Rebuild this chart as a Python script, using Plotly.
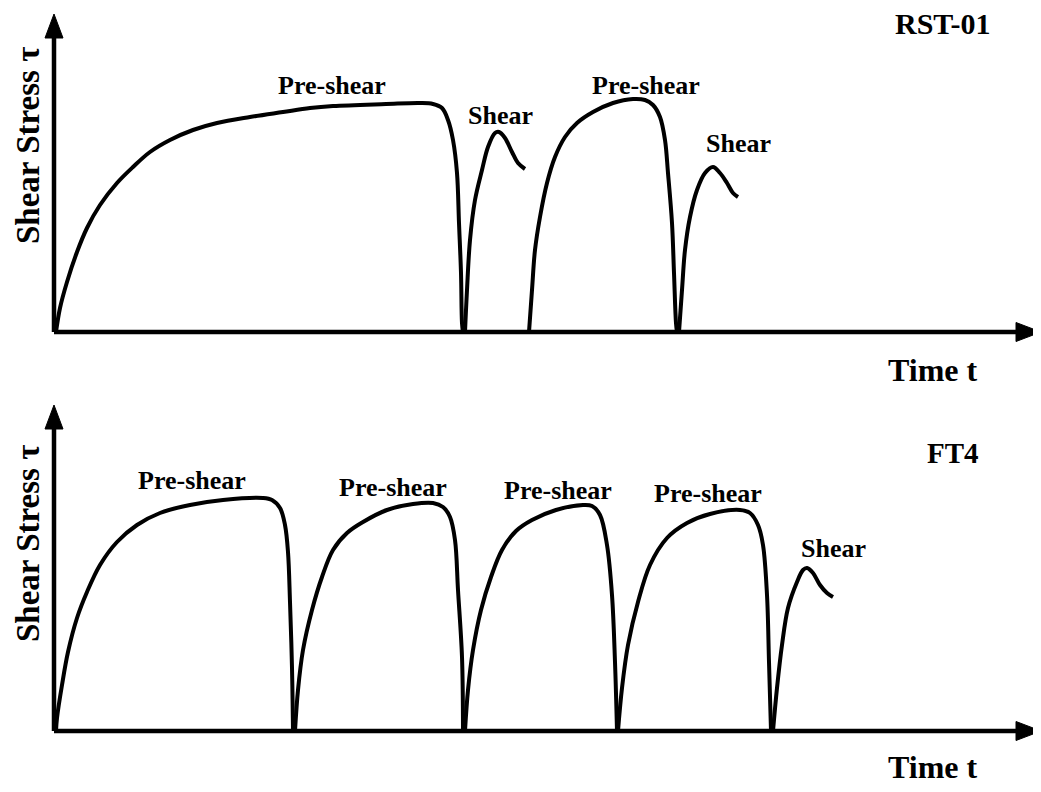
import plotly.graph_objects as go

# Schematic values (arbitrary units: time t, stress tau)
# --- RST-01 (top panel) ---
rst_pre1_t = [0, 4, 11, 21, 31, 44, 61, 77, 94, 114, 137, 161, 194, 227, 254, 277, 330, 364,
              377, 386, 392, 397, 401, 403, 405, 406, 407]
rst_pre1_tau = [0, 24, 50, 80, 104, 127, 149, 165, 180, 192, 202, 209, 215, 220, 224, 226, 228, 229,
                228, 224, 212, 192, 159, 109, 59, 9, 0]

rst_shear1_t = [409, 411, 414, 419, 426, 432, 439, 443, 449, 456, 462, 469]
rst_shear1_tau = [0, 42, 92, 132, 162, 185, 199, 200, 194, 180, 169, 163]

rst_pre2_t = [473, 476, 479, 484, 491, 499, 509, 521, 537, 557, 577, 589, 597, 604, 609, 612, 616,
              618, 620, 621]
rst_pre2_tau = [0, 42, 82, 115, 149, 175, 195, 209, 220, 229, 233, 232, 227, 215, 192, 159, 109,
                59, 9, 0]

rst_shear2_t = [623, 626, 629, 634, 641, 649, 657, 664, 671, 677, 682]
rst_shear2_tau = [0, 42, 82, 115, 142, 159, 165, 159, 149, 139, 135]

# --- FT4 (bottom panel) ---
ft4_pre1_t = [0, 1, 6, 12, 21, 31, 44, 61, 81, 104, 134, 167, 207, 216, 224, 229, 232, 234, 236, 237]
ft4_pre1_tau = [0, 13, 46, 79, 113, 139, 166, 189, 206, 218, 226, 231, 233, 231, 223, 206, 179, 129,
                63, 0]

ft4_pre2_t = [239, 242, 247, 256, 266, 277, 291, 307, 331, 357, 377, 387, 394, 399, 402, 406, 407]
ft4_pre2_tau = [0, 41, 81, 121, 154, 181, 198, 209, 221, 227, 228, 224, 214, 191, 141, 74, 0]

ft4_pre3_t = [409, 412, 417, 425, 435, 446, 460, 476, 500, 527, 536, 544, 551, 556, 559, 561]
ft4_pre3_tau = [0, 41, 81, 121, 154, 181, 200, 211, 221, 226, 225, 216, 186, 136, 69, 0]

ft4_pre4_t = [562, 566, 572, 582, 594, 611, 631, 654, 684, 694, 702, 707, 711, 713, 715]
ft4_pre4_tau = [0, 43, 86, 129, 166, 193, 208, 217, 221, 218, 206, 186, 136, 69, 0]

ft4_shear_t = [717, 721, 726, 732, 741, 747, 751, 757, 764, 771, 777]
ft4_shear_tau = [0, 43, 86, 123, 149, 161, 163, 158, 146, 138, 134]

# labels: (text, t, tau)
rst_labels = [("Pre-shear", 276, 247), ("Shear", 444, 217), ("Pre-shear", 590, 247), ("Shear", 682, 189)]
ft4_labels = [("Pre-shear", 136, 251), ("Pre-shear", 337, 244), ("Pre-shear", 502, 241),
              ("Pre-shear", 652, 238), ("Shear", 777, 183)]

FONT = "Liberation Serif"
BLACK = "#000000"
W, H = 1033, 784  # page body keeps an 8px margin


def px_x(px):
    return (px - 8) / W


def px_y(py):
    return 1 - (py - 8) / H


fig = go.Figure()

top_curves = [(rst_pre1_t, rst_pre1_tau), (rst_shear1_t, rst_shear1_tau),
              (rst_pre2_t, rst_pre2_tau), (rst_shear2_t, rst_shear2_tau)]
bottom_curves = [(ft4_pre1_t, ft4_pre1_tau), (ft4_pre2_t, ft4_pre2_tau), (ft4_pre3_t, ft4_pre3_tau),
                 (ft4_pre4_t, ft4_pre4_tau), (ft4_shear_t, ft4_shear_tau)]

for t, tau in top_curves:
    fig.add_trace(go.Scatter(x=t, y=tau, mode="lines", xaxis="x", yaxis="y",
                             line=dict(color=BLACK, width=4, shape="spline", smoothing=1.0),
                             showlegend=False, hoverinfo="skip"))
for t, tau in bottom_curves:
    fig.add_trace(go.Scatter(x=t, y=tau, mode="lines", xaxis="x2", yaxis="y2",
                             line=dict(color=BLACK, width=4, shape="spline", smoothing=1.0),
                             showlegend=False, hoverinfo="skip"))

# axes drawn as arrows
shapes = []
for xr, yr, ytip in [("x", "y", 318), ("x2", "y2", 326)]:
    shapes.append(dict(type="line", xref=xr, yref=yr, x0=-2, y0=0, x1=965, y1=0,
                       line=dict(color=BLACK, width=4.5)))
    shapes.append(dict(type="line", xref=xr, yref=yr, x0=-2, y0=0, x1=-2, y1=ytip - 20,
                       line=dict(color=BLACK, width=4.5)))
    shapes.append(dict(type="path", xref=xr, yref=yr,
                       path="M 960 9.5 L 985 0 L 960 -9.5 Z",
                       fillcolor=BLACK, line=dict(color=BLACK, width=1)))
    shapes.append(dict(type="path", xref=xr, yref=yr,
                       path=f"M -11 {ytip - 24} L -2 {ytip} L 7 {ytip - 24} Z",
                       fillcolor=BLACK, line=dict(color=BLACK, width=1)))

annotations = []
for text, t, tau in rst_labels:
    annotations.append(dict(text=f"<b>{text}</b>", x=t, y=tau, xref="x", yref="y", showarrow=False,
                            xanchor="center", yanchor="middle",
                            font=dict(family=FONT, size=26, color=BLACK)))
for text, t, tau in ft4_labels:
    annotations.append(dict(text=f"<b>{text}</b>", x=t, y=tau, xref="x2", yref="y2", showarrow=False,
                            xanchor="center", yanchor="middle",
                            font=dict(family=FONT, size=26, color=BLACK)))

annotations += [
    dict(text="<b>RST-01</b>", x=887, y=309, xref="x", yref="y", showarrow=False,
         xanchor="center", yanchor="middle", font=dict(family=FONT, size=30, color=BLACK)),
    dict(text="<b>FT4</b>", x=897, y=278, xref="x2", yref="y2", showarrow=False,
         xanchor="center", yanchor="middle", font=dict(family=FONT, size=29, color=BLACK)),
    dict(text="<b>Time t</b>", x=px_x(933), y=px_y(370), xref="paper", yref="paper", showarrow=False,
         xanchor="center", yanchor="middle", font=dict(family=FONT, size=32, color=BLACK)),
    dict(text="<b>Time t</b>", x=px_x(933), y=px_y(767), xref="paper", yref="paper", showarrow=False,
         xanchor="center", yanchor="middle", font=dict(family=FONT, size=32, color=BLACK)),
    dict(text="<b>Shear Stress τ</b>", x=px_x(28), y=px_y(146), xref="paper", yref="paper",
         showarrow=False, textangle=-90, xanchor="center", yanchor="middle",
         font=dict(family=FONT, size=33, color=BLACK)),
    dict(text="<b>Shear Stress τ</b>", x=px_x(28), y=px_y(544), xref="paper", yref="paper",
         showarrow=False, textangle=-90, xanchor="center", yanchor="middle",
         font=dict(family=FONT, size=33, color=BLACK)),
]

hidden = dict(visible=False, showgrid=False, zeroline=False, fixedrange=True)
fig.update_layout(
    width=W, height=H,
    margin=dict(l=0, r=0, t=0, b=0),
    paper_bgcolor="white", plot_bgcolor="white",
    xaxis=dict(domain=[0, 1], range=[-48, 985], anchor="y", **hidden),
    yaxis=dict(domain=[0.5, 1], range=[-68, 324], anchor="x", **hidden),
    xaxis2=dict(domain=[0, 1], range=[-48, 985], anchor="y2", **hidden),
    yaxis2=dict(domain=[0, 0.5], range=[-61, 331], anchor="x2", **hidden),
    shapes=shapes,
    annotations=annotations,
)

fig.write_html("out.html")
